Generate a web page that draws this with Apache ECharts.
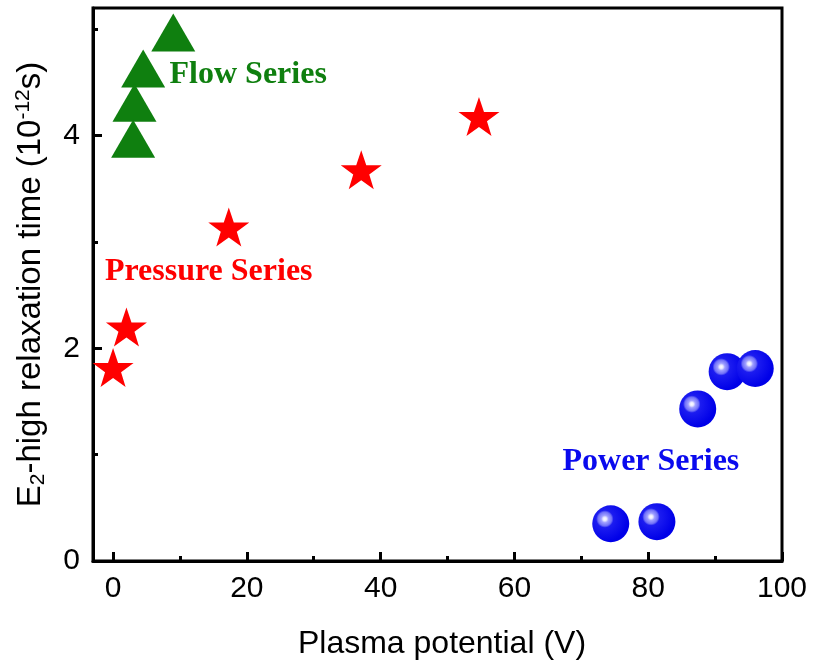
<!DOCTYPE html>
<html>
<head>
<meta charset="utf-8">
<script src="https://cdn.jsdelivr.net/npm/echarts@6/dist/echarts.min.js"></script>
<style>html,body{margin:0;padding:0;background:#fff}#c{width:814px;height:665px}</style>
</head>
<body>
<div id="c"></div>
<script>
// ---- data ----
var flowX = [9.0, 4.5, 3.2, 3.0];
var flowY = [4.97, 4.63, 4.31, 3.97];
var pressureX = [0.0, 2.0, 17.3, 37.1, 54.7];
var pressureY = [1.82, 2.20, 3.14, 3.68, 4.18];
var powerX = [74.4, 81.3, 87.4, 91.8, 96.0];
var powerY = [0.35, 0.37, 1.43, 1.78, 1.81];
var xMajorTicks = [0, 20, 40, 60, 80, 100];
var xMinorTicks = [10, 30, 50, 70, 90];
var yMajorTicks = [0, 2, 4];
var yMinorTicks = [1, 3, 5];
var annotationNames = ['Flow Series', 'Pressure Series', 'Power Series'];
var annotationX = [20.2, 14.3, 80.4];
var annotationY = [4.57, 2.72, 0.93];

function zip(xs, ys) { return xs.map(function (x, i) { return [x, ys[i]]; }); }

var GREEN = '#0f7f0f', RED = '#ff0000', BLUE = '#0a0aee';
var STAR = 'path://M50,0 L61.8,35.1 L98.1,35.1 L68.8,56.7 L79.4,91 L50,70 L20.6,91 L31.2,56.7 L1.9,35.1 L38.2,35.1 Z';
var sans = 'Liberation Sans, Arial, sans-serif';
var serif = 'Liberation Serif, Times New Roman, serif';

var chart = echarts.init(document.getElementById('c'), null, { renderer: 'canvas' });
var annColors = [GREEN, RED, BLUE];

var option = {
  animation: false,
  backgroundColor: '#fff',
  grid: { left: 93, right: 32, top: 8, bottom: 102, show: true, borderColor: '#000', borderWidth: 3, backgroundColor: 'transparent' },
  xAxis: [{
    type: 'value', min: -3, max: 100, position: 'bottom',
    axisLine: { show: true, onZero: false, lineStyle: { color: '#000', width: 3 } },
    axisTick: { show: true, inside: true, length: 9, lineStyle: { width: 3, color: '#000' }, customValues: xMajorTicks },
    axisLabel: { show: true, margin: 13, fontSize: 30, color: '#000', fontFamily: sans, customValues: xMajorTicks },
    splitLine: { show: false },
    name: 'Plasma potential (V)', nameLocation: 'middle', nameGap: 67,
    nameTextStyle: { fontSize: 32, color: '#000', fontFamily: sans, padding: [0, 0, 0, 9] }
  }, {
    type: 'value', min: -3, max: 100, position: 'bottom',
    axisLine: { show: false, onZero: false },
    axisTick: { show: true, inside: true, length: 5, lineStyle: { width: 3, color: '#000' }, customValues: xMinorTicks },
    axisLabel: { show: false },
    splitLine: { show: false }
  }],
  yAxis: [{
    type: 'value', min: 0, max: 5.2, position: 'left',
    axisLine: { show: true, onZero: false, lineStyle: { color: '#000', width: 3 } },
    axisTick: { show: true, inside: true, length: 9, lineStyle: { width: 3, color: '#000' }, customValues: yMajorTicks },
    axisLabel: { show: true, margin: 13, fontSize: 30, color: '#000', fontFamily: sans, customValues: yMajorTicks },
    splitLine: { show: false },
    name: '{a|E}{b|2}{a|-high relaxation time (10}{c|-12}{a|s)}',
    nameLocation: 'middle', nameGap: 44, nameRotate: 90,
    nameTextStyle: {
      fontSize: 33, color: '#000', fontFamily: sans,
      rich: {
        a: { fontSize: 33, fontFamily: sans, color: '#000', lineHeight: 36, verticalAlign: 'middle' },
        b: { fontSize: 21, fontFamily: sans, color: '#000', lineHeight: 20, verticalAlign: 'bottom' },
        c: { fontSize: 21, fontFamily: sans, color: '#000', lineHeight: 22, verticalAlign: 'top' }
      }
    }
  }, {
    type: 'value', min: 0, max: 5.2, position: 'left',
    axisLine: { show: false, onZero: false },
    axisTick: { show: true, inside: true, length: 5, lineStyle: { width: 3, color: '#000' }, customValues: yMinorTicks },
    axisLabel: { show: false },
    splitLine: { show: false }
  }],
  series: [{
    name: 'Flow Series', type: 'scatter', xAxisIndex: 0, yAxisIndex: 0,
    symbol: 'triangle', symbolSize: [44, 38],
    itemStyle: { color: GREEN, opacity: 1 },
    data: zip(flowX, flowY), silent: true
  }, {
    name: 'Pressure Series', type: 'scatter', xAxisIndex: 0, yAxisIndex: 0,
    symbol: STAR, symbolSize: [41, 39],
    itemStyle: { color: RED, opacity: 1 },
    data: zip(pressureX, pressureY), silent: true
  }, {
    name: 'Power Series', type: 'scatter', xAxisIndex: 0, yAxisIndex: 0,
    symbol: 'circle', symbolSize: 37,
    itemStyle: {
      opacity: 1,
      color: {
        type: 'radial', x: 0.34, y: 0.37, r: 0.62,
        colorStops: [
          { offset: 0, color: '#ffffff' },
          { offset: 0.08, color: '#e8e8ff' },
          { offset: 0.16, color: '#a0a0ff' },
          { offset: 0.3, color: '#7070f8' },
          { offset: 0.38, color: '#1c1cf0' },
          { offset: 1, color: '#0000e8' }
        ]
      }
    },
    data: zip(powerX, powerY), silent: true
  }, {
    name: 'labels', type: 'scatter', xAxisIndex: 0, yAxisIndex: 0,
    symbolSize: 0, silent: true,
    itemStyle: { opacity: 1 },
    data: annotationNames.map(function (n, i) {
      return {
        name: n, value: [annotationX[i], annotationY[i]],
        label: { color: annColors[i] }
      };
    }),
    label: {
      show: true, position: 'inside', formatter: '{b}', opacity: 1,
      fontFamily: serif, fontWeight: 'bold', fontSize: 32
    }
  }]
};
chart.setOption(option);
</script>
</body>
</html>
